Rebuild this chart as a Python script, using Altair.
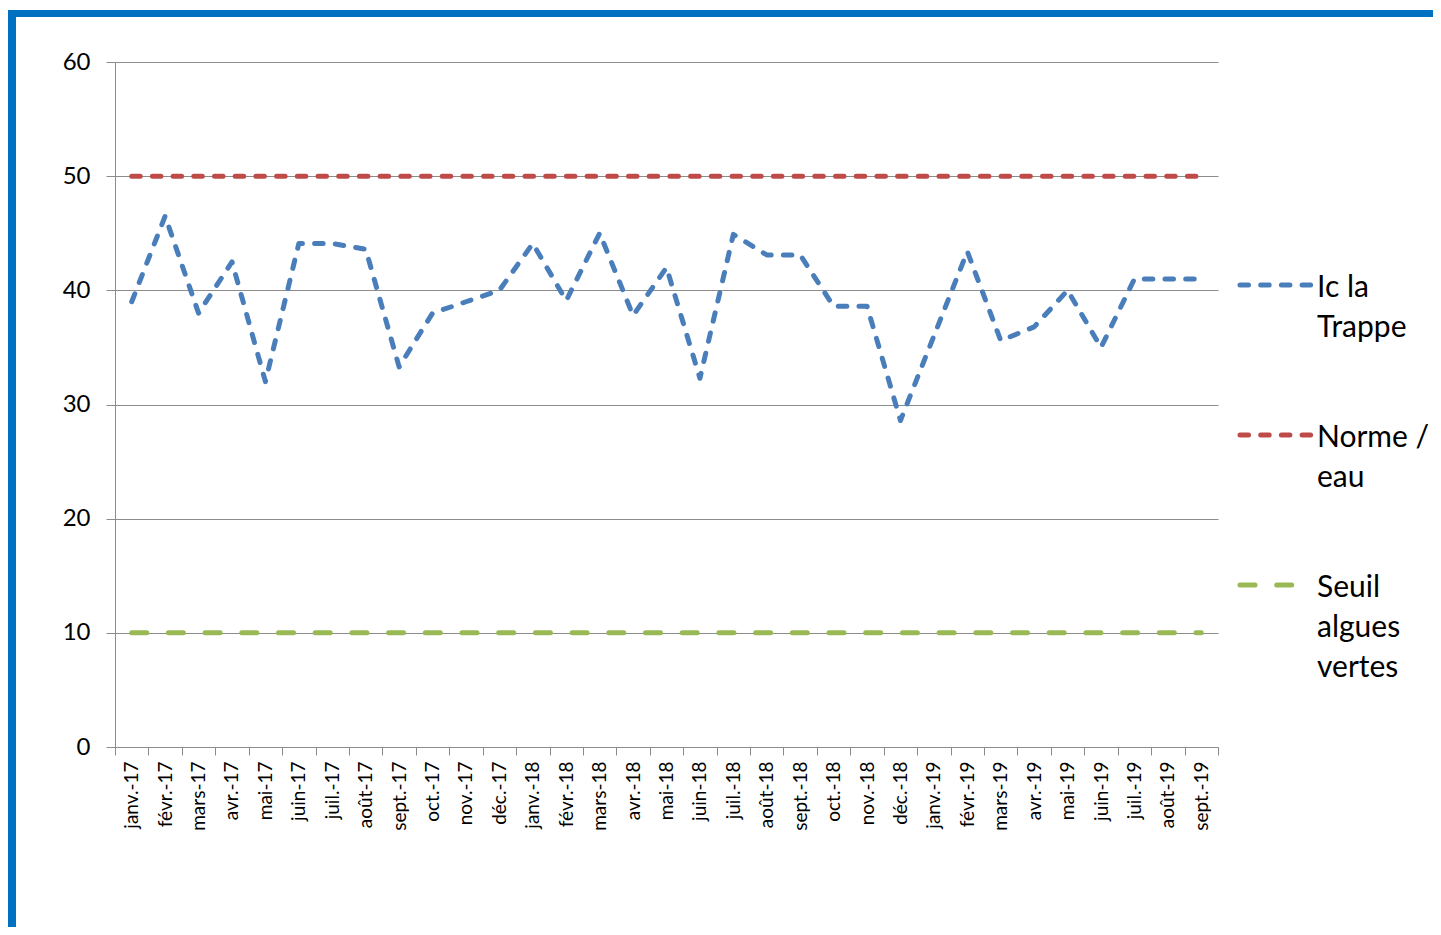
import altair as alt
import pandas as pd

months = ["janv.-17", "févr.-17", "mars-17", "avr.-17", "mai-17", "juin-17", "juil.-17",
          "août-17", "sept.-17", "oct.-17", "nov.-17", "déc.-17",
          "janv.-18", "févr.-18", "mars-18", "avr.-18", "mai-18", "juin-18", "juil.-18",
          "août-18", "sept.-18", "oct.-18", "nov.-18", "déc.-18",
          "janv.-19", "févr.-19", "mars-19", "avr.-19", "mai-19", "juin-19", "juil.-19",
          "août-19", "sept.-19"]
ic_la_trappe = [39, 46.5, 38, 42.5, 32, 44.1, 44.1, 43.6, 33.3, 38, 39, 40,
                44.1, 39.1, 45, 37.8, 42, 32.3, 44.9, 43.1, 43.1, 38.6, 38.6, 28.6,
                36, 43.4, 35.6, 36.8, 40, 35, 41, 41, 41]
norme_eau = [50] * len(months)
seuil_algues = [10] * len(months)

series_names = ["Ic la Trappe", "Norme / eau", "Seuil algues vertes"]
legend_labels = ["Ic la\nTrappe", "Norme /\neau", "Seuil\nalgues\nvertes"]
series_colors = ["#4A7EBB", "#BE4B48", "#98B954"]
series_dashes = [[8.5, 12.2], [8.5, 12.2], [15, 21.7]]
y_ticks = [0, 10, 20, 30, 40, 50, 60]

rows = []
for name, vals in zip(series_names, [ic_la_trappe, norme_eau, seuil_algues]):
    for m, v in zip(months, vals):
        rows.append({"month": m, "value": v, "series": name})
df = pd.DataFrame(rows)
legend_df = pd.DataFrame({"series": series_names, "label": legend_labels})

W, H = 1103, 685
PAD = {"left": 107, "top": 54, "right": 215, "bottom": 180}
FONT = "Lato"
GRAY = "#8C8C8C"

color_scale = alt.Scale(domain=series_names, range=series_colors)
dash_scale = alt.Scale(domain=series_names, range=series_dashes)

lines = alt.Chart(df).mark_line(strokeWidth=5, strokeCap="round", strokeJoin="round").encode(
    x=alt.X("month:N", sort=months, bandPosition=0.5,
            scale=alt.Scale(type="band", paddingInner=0, paddingOuter=0),
            axis=alt.Axis(title=None, labelAngle=270, labelFont=FONT, labelFontSize=19,
                          labelColor="#000000", labelPadding=6, tickSize=8, tickBand="extent",
                          tickColor=GRAY, domainColor=GRAY, labelOverlap=False, grid=False)),
    y=alt.Y("value:Q", scale=alt.Scale(domain=[0, 60]),
            axis=alt.Axis(title=None, values=y_ticks, labelFont=FONT, labelFontSize=24,
                          labelColor="#000000", labelPadding=16, tickSize=9,
                          tickColor=GRAY, domainColor=GRAY, grid=True, gridColor=GRAY)),
    color=alt.Color("series:N", scale=color_scale, legend=None),
    strokeDash=alt.StrokeDash("series:N", scale=dash_scale, legend=None),
    detail="series:N",
)

legend_y = alt.Scale(type="point", domain=series_names, range=[223, 523], padding=0)

legend_sym = alt.Chart(legend_df).mark_rule(strokeWidth=5, strokeCap="round").encode(
    x=alt.value(W + 22), x2=alt.value(W + 93),
    y=alt.Y("series:N", scale=legend_y, axis=None),
    color=alt.Color("series:N", scale=color_scale, legend=None),
    strokeDash=alt.StrokeDash("series:N", scale=dash_scale, legend=None),
)

legend_txt = alt.Chart(legend_df).mark_text(
    align="left", baseline="top", dy=-12, lineBreak="\n", font=FONT, fontSize=30,
    lineHeight=40, color="#000000"
).encode(
    x=alt.value(W + 99),
    y=alt.Y("series:N", scale=legend_y, axis=None),
    text="label:N",
)

frame_df = pd.DataFrame({"k": [0]})
frame_left = alt.Chart(frame_df).mark_rule(color="#0070C0", strokeWidth=8).encode(
    x=alt.value(-PAD["left"] + 4), y=alt.value(-PAD["top"] + 2), y2=alt.value(H + PAD["bottom"])
)
frame_top = alt.Chart(frame_df).mark_rule(color="#0070C0", strokeWidth=7).encode(
    y=alt.value(-PAD["top"] + 5.5), x=alt.value(-PAD["left"]), x2=alt.value(W + PAD["right"])
)

chart = alt.layer(lines, legend_sym, legend_txt, frame_left, frame_top).resolve_scale(
    y="independent"
).properties(
    width=W, height=H, padding=PAD, autosize=alt.AutoSizeParams(type="none"),
    background="white"
).configure_view(strokeWidth=0)

chart.save("out.html", embed_options={"renderer": "svg", "actions": False})
